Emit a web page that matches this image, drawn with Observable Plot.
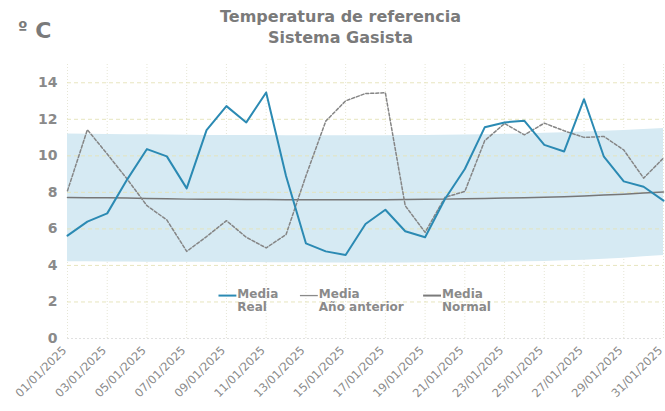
<!DOCTYPE html>
<html>
<head>
<meta charset="utf-8">
<script src="https://cdn.jsdelivr.net/npm/d3@7"></script>
<script src="https://cdn.jsdelivr.net/npm/@observablehq/plot@0.6"></script>
<style>
  html, body { margin: 0; padding: 0; background: #fff; }
  #wrap { position: relative; width: 665px; height: 411px; font-family: "DejaVu Sans", Verdana, sans-serif; }
  #title { position: absolute; left: 0; width: 665px; top: 6px; text-align: center; font-weight: bold; font-size: 16px; line-height: 21px; color: #7a7a7a; padding-left: 16px; box-sizing: border-box; }
  #unit { position: absolute; left: 18px; top: 18px; font-weight: bold; font-size: 22px; color: #7a7a7a; }
  #chart { position: absolute; left: 0; top: 0; }
</style>
</head>
<body>
<div id="wrap">
  <div id="chart"></div>
  <div id="title">Temperatura de referencia<br>Sistema Gasista</div>
  <div id="unit"><span style="font-size:17px;vertical-align:4px">º</span> C</div>
</div>
<script>
const days = d3.range(1, 32);
const dateLabels = days.map(d => String(d).padStart(2, "0") + "/01/2025");
const tickDays = days.filter(d => d % 2 === 1);

const mediaReal = [5.63, 6.4, 6.85, 8.7, 10.37, 9.97, 8.22, 11.41, 12.72, 11.83, 13.47, 8.9, 5.21, 4.77, 4.57, 6.27, 7.05, 5.87, 5.54, 7.64, 9.28, 11.56, 11.83, 11.92, 10.6, 10.24, 13.1, 9.95, 8.6, 8.31, 7.55];
const mediaAnterior = [8.09, 11.43, 10.1, 8.73, 7.27, 6.49, 4.77, 5.58, 6.45, 5.54, 4.96, 5.69, 8.9, 11.9, 13.01, 13.41, 13.45, 7.27, 5.81, 7.73, 8.05, 10.83, 11.77, 11.15, 11.79, 11.37, 11.01, 11.06, 10.32, 8.78, 9.88];
const mediaNormal = [7.72, 7.71, 7.70, 7.69, 7.67, 7.65, 7.63, 7.62, 7.62, 7.61, 7.61, 7.60, 7.60, 7.60, 7.60, 7.60, 7.60, 7.61, 7.62, 7.63, 7.65, 7.67, 7.69, 7.71, 7.73, 7.76, 7.80, 7.85, 7.90, 7.96, 8.02];
const bandMin = [4.2, 4.2, 4.19, 4.19, 4.18, 4.18, 4.17, 4.17, 4.16, 4.16, 4.15, 4.15, 4.15, 4.14, 4.14, 4.14, 4.14, 4.14, 4.15, 4.15, 4.16, 4.17, 4.18, 4.2, 4.22, 4.25, 4.29, 4.34, 4.4, 4.47, 4.55];
const bandMax = [11.19, 11.18, 11.17, 11.16, 11.15, 11.14, 11.13, 11.12, 11.12, 11.11, 11.11, 11.1, 11.1, 11.1, 11.1, 11.1, 11.1, 11.11, 11.12, 11.13, 11.14, 11.16, 11.18, 11.2, 11.23, 11.26, 11.3, 11.34, 11.39, 11.44, 11.5];
const yTicks = [0, 2, 4, 6, 8, 10, 12, 14];

const rows = days.map((d, i) => ({
  day: d, real: mediaReal[i], anterior: mediaAnterior[i], normal: mediaNormal[i], lo: bandMin[i], hi: bandMax[i]
}));

const legend = [
  {x: 8.6, label: "Media\nReal", color: "#2b8ab3", dash: null},
  {x: 12.7, label: "Media\nAño anterior", color: "#8a8a8a", dash: "3,2"},
  {x: 18.9, label: "Media\nNormal", color: "#7a7a7a", dash: null}
];

const chart = Plot.plot({
  width: 665,
  height: 411,
  marginLeft: 67,
  marginRight: 2,
  marginTop: 64,
  marginBottom: 73,
  style: {fontFamily: "DejaVu Sans, Verdana, sans-serif", color: "#8a8a8a", background: "transparent"},
  x: {domain: [1, 31], label: null},
  y: {domain: [0, 15], label: null},
  marks: [
    Plot.ruleX(tickDays, {stroke: "#e6e6d6", strokeDasharray: "1,2", strokeWidth: 1}),
    Plot.areaY(rows, {x: "day", y1: "lo", y2: "hi", fill: "#d6eaf3", curve: "linear"}),
    Plot.ruleY([2, 4, 6, 8, 10, 12, 14], {stroke: "#e4e2b8", strokeDasharray: "4,3", strokeWidth: 1, strokeOpacity: 0.9}),
    Plot.ruleY([0], {stroke: "#e0e0e0", strokeDasharray: "2,2"}),
    Plot.line(rows, {x: "day", y: "normal", stroke: "#777", strokeWidth: 1.5}),
    Plot.line(rows, {x: "day", y: "anterior", stroke: "#858585", strokeWidth: 1.5, strokeDasharray: "3,2"}),
    Plot.line(rows, {x: "day", y: "real", stroke: "#2b8ab3", strokeWidth: 2}),
    Plot.axisY(yTicks, {tickSize: 0, tickPadding: 10, fontSize: 14, fontWeight: "bold", fill: "#8a8a8a"}),
    Plot.axisX(tickDays, {tickSize: 0, tickFormat: d => dateLabels[d - 1], tickRotate: -45, fontSize: 11.5, fill: "#8a8a8a", stroke: "#8a8a8a", strokeWidth: 0.3, textAnchor: "end", tickPadding: 10, dx: -3}),
    Plot.link(legend, {x1: d => d.x, x2: d => d.x + 0.9, y1: 2.35, y2: 2.35, stroke: "color", strokeWidth: d => d.dash ? 1.3 : 2, strokeDasharray: "dash"}),
    Plot.text(legend, {x: d => d.x + 0.95, y: 2.35, text: "label", textAnchor: "start", dy: -7, lineHeight: 1.1, fontSize: 12, fontWeight: "bold", fill: "#8a8a8a", lineAnchor: "top"})
  ]
});
document.getElementById("chart").appendChild(chart);
</script>
</body>
</html>
